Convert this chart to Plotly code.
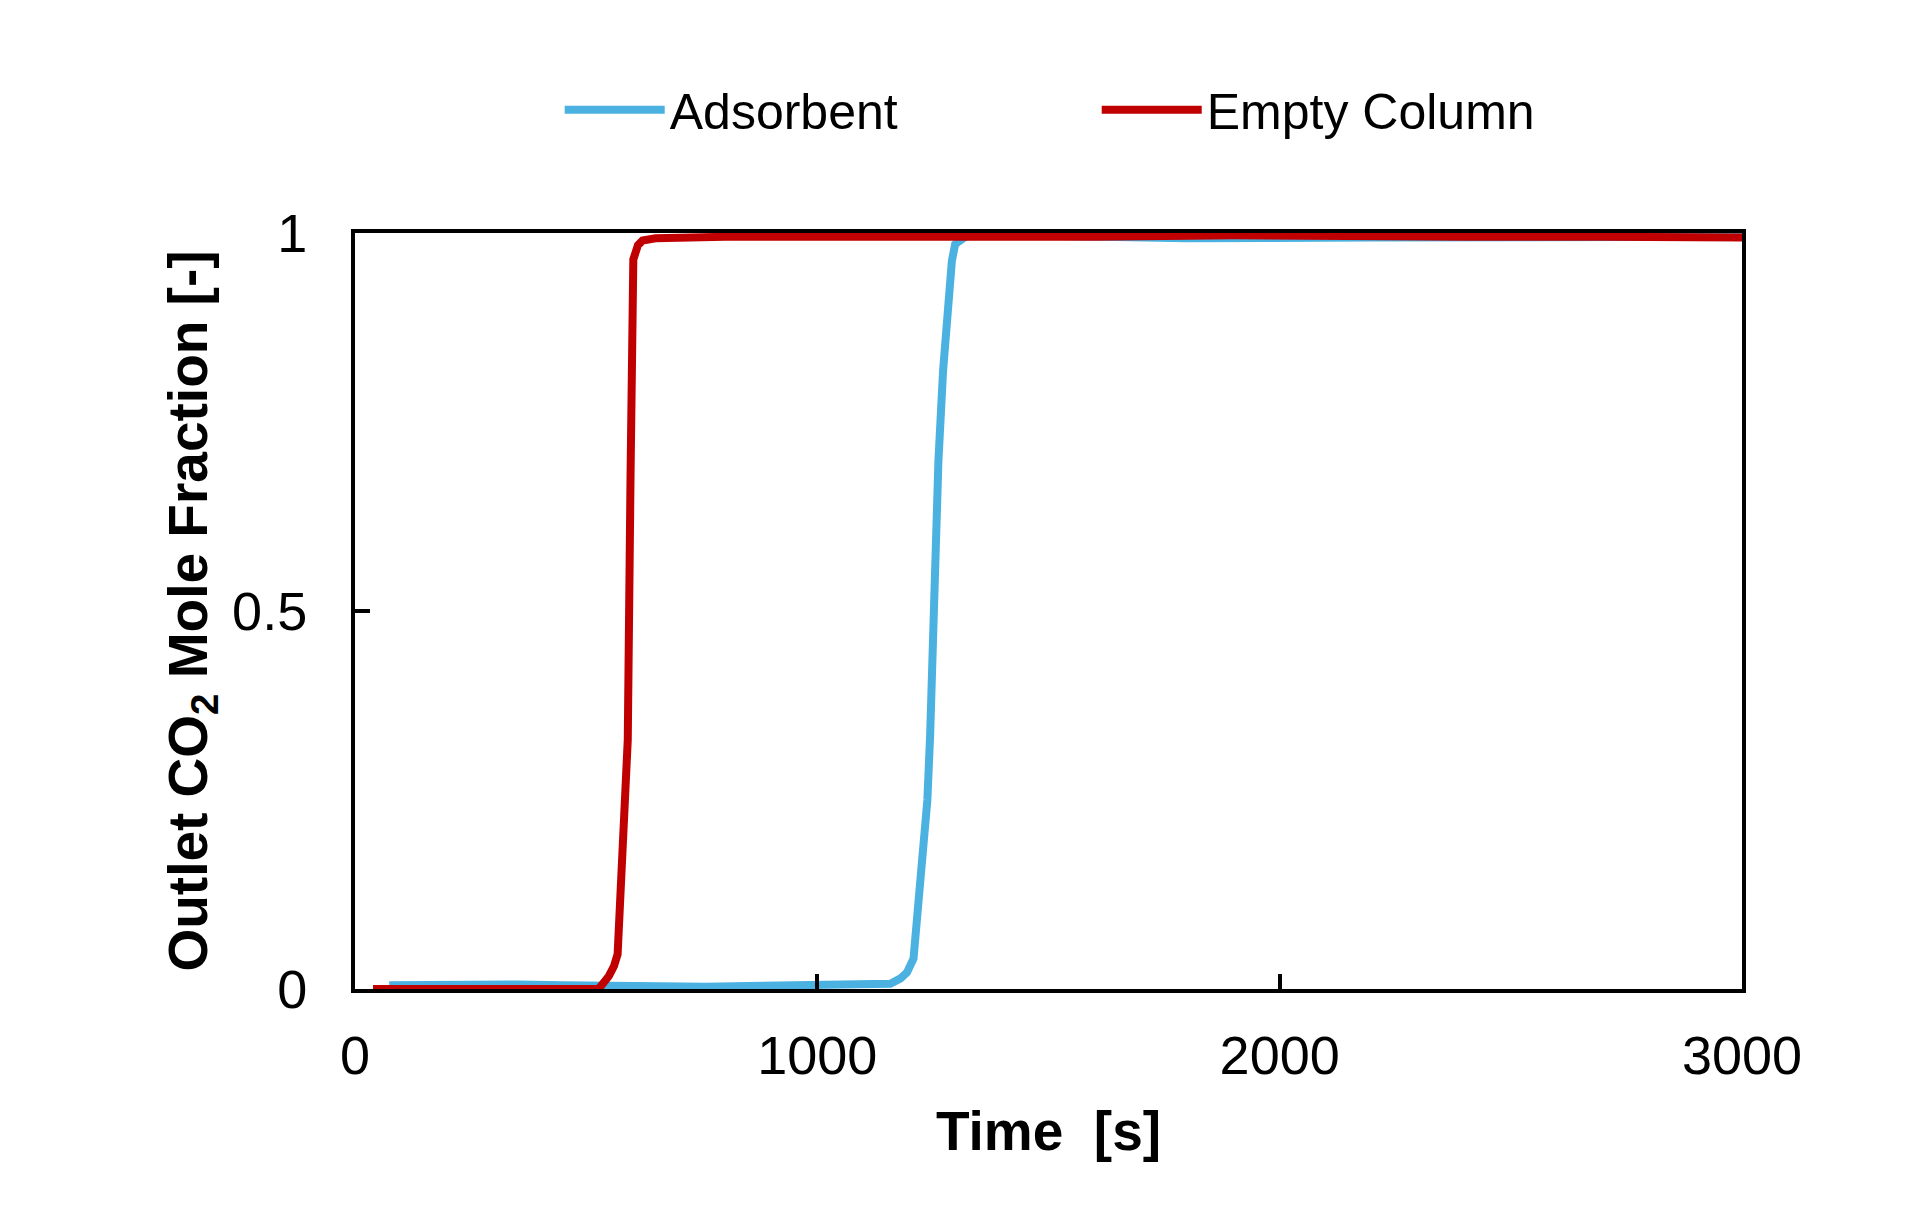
import plotly.graph_objects as go

# Adsorbent (blue) breakthrough curve
ads_time = [74, 150, 250, 350, 450, 530, 600, 700, 760, 850, 950, 1050, 1143, 1158,
            1180, 1194, 1208, 1218, 1229, 1238, 1244, 1250, 1255, 1262, 1272, 1283,
            1291, 1298, 1320, 1340, 1500, 1800, 2200, 2600, 3000]
ads_frac = [0.005, 0.006, 0.006, 0.006, 0.005, 0.004, 0.003, 0.003, 0.003, 0.004, 0.005,
            0.005, 0.006, 0.007, 0.014, 0.022, 0.04, 0.11, 0.178, 0.25, 0.336, 0.45,
            0.587, 0.70, 0.818, 0.917, 0.963, 0.985, 0.995, 0.998, 0.996, 0.993, 0.994,
            0.995, 0.995]

# Empty column (red) curve
emp_time = [39, 150, 300, 450, 527, 549, 560, 568, 576, 582, 590, 596, 602, 612, 622,
            650, 700, 800, 1000, 1200, 1435, 1600, 1900, 2130, 2400, 2700, 3000]
emp_frac = [0.0, 0.0, 0.0, 0.0, 0.0, 0.017, 0.03, 0.046, 0.15, 0.24, 0.33, 0.68, 0.965,
            0.984, 0.99, 0.993, 0.994, 0.995, 0.995, 0.995, 0.994, 0.995, 0.997, 0.995,
            0.995, 0.995, 0.994]

x_ticks = [0, 1000, 2000, 3000]
y_ticks = [0, 0.5, 1]
y_tick_text = ["0", "0.5", "1"]

FONT = "Liberation Sans, Arial, sans-serif"

fig = go.Figure()
fig.add_trace(go.Scatter(x=ads_time, y=ads_frac, mode="lines", name="Adsorbent",
                         line=dict(color="#4AB1E0", width=8), cliponaxis=False))
fig.add_trace(go.Scatter(x=emp_time, y=emp_frac, mode="lines", name="Empty Column",
                         line=dict(color="#C00000", width=8), cliponaxis=False))

fig.update_layout(
    width=1898, height=1208,
    margin=dict(l=347, r=164, t=225, b=227),
    paper_bgcolor="white", plot_bgcolor="white",
    font=dict(family=FONT, color="black", size=54),
    showlegend=True,
    legend=dict(orientation="h", x=0.1476, xanchor="left", y=1.163, yanchor="middle",
                font=dict(size=50, family=FONT, color="black"),
                itemwidth=100, entrywidth=422, bgcolor="rgba(0,0,0,0)"),
    xaxis=dict(range=[0, 3000], tickvals=x_ticks, ticks="inside", ticklen=15,
               tickwidth=4, tickcolor="black", showline=True, linecolor="black",
               linewidth=4, mirror=True, showgrid=False, zeroline=False,
               tickfont=dict(size=54, family=FONT), ticklabelstandoff=16,
               title=dict(text="<b>Time\u00a0 [s]</b>", font=dict(size=55, family=FONT),
                          standoff=29)),
    yaxis=dict(range=[0, 1], tickvals=y_ticks, ticktext=y_tick_text, ticks="inside",
               ticklen=15, tickwidth=4, tickcolor="black", showline=True,
               linecolor="black", linewidth=4, mirror=True, showgrid=False,
               zeroline=False, tickfont=dict(size=54, family=FONT), ticklabelstandoff=33,
               title=dict(text="<b>Outlet CO<sub>2</sub> Mole Fraction [-]</b>",
                          font=dict(size=55, family=FONT), standoff=8)),
)

fig.write_html("out.html", config={"displayModeBar": False})
